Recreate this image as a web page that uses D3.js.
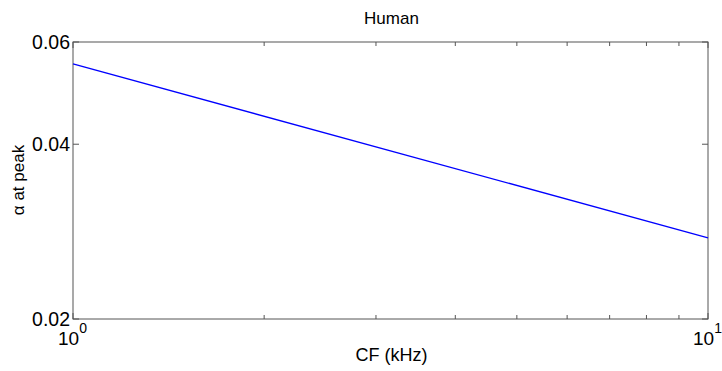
<!DOCTYPE html>
<html><head><meta charset="utf-8">
<script src="https://cdn.jsdelivr.net/npm/d3@7"></script>
<style>body{margin:0;background:#fff}text{font-family:"Liberation Sans",Arial,sans-serif}</style>
</head><body>
<svg id="c" width="722" height="371"></svg>
<script>
const cf = [1, 10];
const alphaPeak = [0.0550, 0.0276];
const yTicks = [0.02, 0.04, 0.06];
const xMajor = [1, 10];
const xMinor = [2, 3, 4, 5, 6, 7, 8, 9];

const m = {l: 73, r: 708, t: 42, b: 319};
const svg = d3.select("#c");
const x = d3.scaleLog().domain([1, 10]).range([m.l, m.r]);
const y = d3.scaleLog().domain([0.02, 0.06]).range([m.b, m.t]);
const axisColor = "#555";

svg.append("rect").attr("x", m.l).attr("y", m.t).attr("width", m.r - m.l).attr("height", m.b - m.t)
  .attr("fill", "#fff").attr("stroke", axisColor).attr("stroke-width", 1);

const g = svg.append("g");
[...xMajor, ...xMinor].forEach(v => {
  const len = xMajor.includes(v) ? 6 : 4;
  g.append("line").attr("x1", x(v)).attr("x2", x(v)).attr("y1", m.b).attr("y2", m.b - len).attr("stroke", axisColor);
  g.append("line").attr("x1", x(v)).attr("x2", x(v)).attr("y1", m.t).attr("y2", m.t + len).attr("stroke", axisColor);
});
yTicks.forEach(v => {
  g.append("line").attr("x1", m.l).attr("x2", m.l + 6).attr("y1", y(v)).attr("y2", y(v)).attr("stroke", axisColor);
  g.append("line").attr("x1", m.r).attr("x2", m.r - 6).attr("y1", y(v)).attr("y2", y(v)).attr("stroke", axisColor);
  g.append("text").attr("x", m.l - 3).attr("y", y(v)).attr("dy", "0.36em").attr("text-anchor", "end")
    .attr("font-size", 19.5).attr("fill", "#000").text(v.toFixed(2));
});
xMajor.forEach(v => {
  const t = g.append("text").attr("x", x(v) - 15).attr("y", m.b + 26).attr("text-anchor", "start")
    .attr("font-size", 19).attr("fill", "#000");
  t.append("tspan").text("10");
  t.append("tspan").attr("dy", -12).attr("font-size", 14).text(Math.round(Math.log10(v)));
});

const line = d3.line().x((d, i) => x(cf[i])).y(d => y(d));
svg.append("path").datum(alphaPeak).attr("d", line).attr("fill", "none").attr("stroke", "#0000ff").attr("stroke-width", 1.3);

svg.append("text").attr("x", (m.l + m.r) / 2 + 1).attr("y", 24).attr("text-anchor", "middle").attr("font-size", 17).text("Human");
svg.append("text").attr("x", (m.l + m.r) / 2 + 1).attr("y", 361).attr("text-anchor", "middle").attr("font-size", 18).text("CF (kHz)");
svg.append("text").attr("transform", `translate(24,180) rotate(-90)`).attr("text-anchor", "middle")
  .attr("font-size", 17).text("α at peak");
</script>
</body></html>
